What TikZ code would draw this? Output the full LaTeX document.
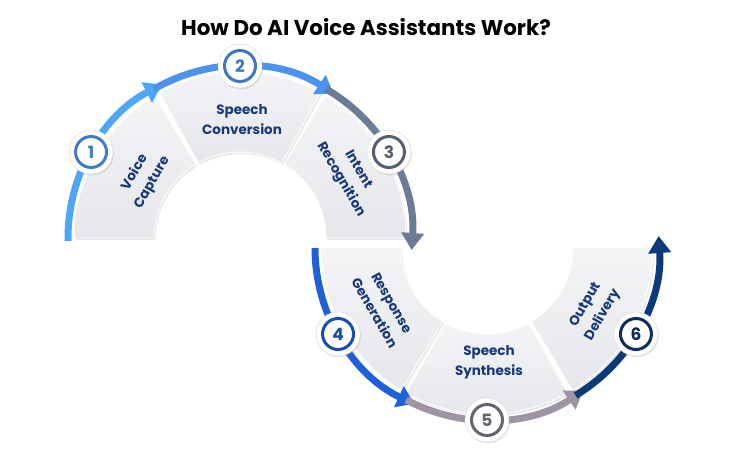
\documentclass[tikz,border=0pt]{standalone}
\usepackage{fontspec}
\setmainfont{Poppins}
\usetikzlibrary{arrows.meta,shadows}
\definecolor{TileTop}{HTML}{F3F4F6}
\definecolor{TileGray}{HTML}{E6E7EA}
\definecolor{LabelNavy}{HTML}{17397A}
\definecolor{ArcSky}{HTML}{4DA6F8}
\definecolor{ArcBlue}{HTML}{4B93EE}
\definecolor{ArcSlate}{HTML}{6A7C98}
\definecolor{ArcRoyal}{HTML}{1F5FD9}
\definecolor{ArcMauve}{HTML}{9E94A4}
\definecolor{ArcNavy}{HTML}{0B3A7B}
\definecolor{RingOne}{HTML}{3D7CC9}
\definecolor{RingTwo}{HTML}{3C78C4}
\definecolor{RingThree}{HTML}{565E70}
\definecolor{RingFour}{HTML}{1A4DB3}
\definecolor{RingFive}{HTML}{6A6270}
\definecolor{RingSix}{HTML}{0C2D5E}

\begin{document}
\begin{tikzpicture}[x=1pt,y=1pt,
  tile/.style={top color=TileTop,bottom color=TileGray,draw=white,line width=0.8pt,drop shadow={opacity=0.18,shadow xshift=1.5pt,shadow yshift=-2pt}},
  flow/.style={line width=7pt,-{Triangle[width=22pt,length=17pt]}},
  halo/.style={circle,fill=white,draw=black!12,line width=0.6pt,minimum size=44pt,drop shadow={opacity=0.2,shadow xshift=1pt,shadow yshift=-1.5pt}},
  marker/.style={circle,draw=#1,line width=3pt,text=#1,minimum size=31pt,inner sep=0pt,font=\bfseries\fontsize{17}{17}\selectfont},
  steplabel/.style={text=LabelNavy,align=center,font=\bfseries\fontsize{13.5}{20}\selectfont}]
  \useasboundingbox (0,0) rectangle (732,456);
  \coordinate (U) at (240,218);
  \coordinate (L) at (487,208);
  \node[font=\bfseries\fontsize{21.4}{21.4}\selectfont] (title) at (366,429) {How Do AI Voice Assistants Work?};
  % tiles
  \foreach \c/\a/\b in {U/180/121,U/119/61,U/59/0,L/180/239,L/241/299,L/301/360}
    \draw[tile] ([shift={(\a:166)}]\c) arc[start angle=\a,end angle=\b,radius=166]
      -- ([shift={(\b:86)}]\c) arc[start angle=\b,end angle=\a,radius=86] -- cycle;
  % arrows round the tiles
  \foreach \c/\a/\b/\col in {U/181/117/ArcSky,U/120/57/ArcBlue,U/60/-4/ArcSlate,L/180/245/ArcRoyal,L/242/304/ArcMauve,L/301/364/ArcNavy}
    \draw[flow,\col] ([shift={(\a:172)}]\c) arc[start angle=\a,end angle=\b,radius=172];
  % numbered markers
  \foreach \c/\ang/\n/\col in {U/150/1/RingOne,U/90/2/RingTwo,U/30/3/RingThree,L/210/4/RingFour,L/270/5/RingFive,L/330/6/RingSix}{
    \node[halo] at ([shift={(\ang:172)}]\c) {};
    \node[marker=\col] (n\n) at ([shift={(\ang:172)}]\c) {\n};
  }
  \node[steplabel,rotate=60] (capture) at ([shift={(148:114)}]U) {Voice\\Capture};
  \node[steplabel] (conversion) at ([shift={(89:118)}]U) {Speech\\Conversion};
  \node[steplabel,rotate=-60] (intent) at ([shift={(30:126)}]U) {Intent\\Recognition};
  \node[steplabel,rotate=-60] (response) at ([shift={(210:120)}]L) {Response\\Generation};
  \node[steplabel] (synthesis) at ([shift={(271:114)}]L) {Speech\\Synthesis};
  \node[steplabel,rotate=60] (delivery) at ([shift={(330:124)}]L) {Output\\Delivery};
\end{tikzpicture}
\end{document}
